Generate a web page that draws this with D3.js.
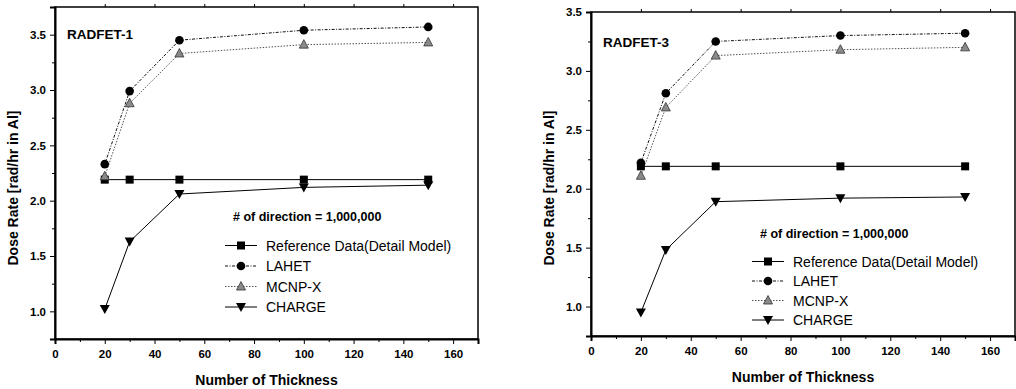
<!DOCTYPE html>
<html>
<head>
<meta charset="utf-8">
<script src="https://cdn.jsdelivr.net/npm/d3@7"></script>
<style>
  body { margin: 0; background: #fff; }
  svg { display: block; font-family: "Liberation Sans", Arial, sans-serif; }
</style>
</head>
<body>
<div id="chart"></div>
<script>
// data
const thickness = [20, 30, 50, 100, 150];
const seriesNames = ["Reference Data(Detail Model)", "LAHET", "MCNP-X", "CHARGE"];

const radfet1Ref = [2.19, 2.19, 2.19, 2.19, 2.19];
const radfet1Lahet = [2.33, 2.99, 3.45, 3.54, 3.57];
const radfet1Mcnp = [2.22, 2.88, 3.33, 3.41, 3.43];
const radfet1Charge = [1.02, 1.63, 2.06, 2.12, 2.14];

const radfet3Ref = [2.19, 2.19, 2.19, 2.19, 2.19];
const radfet3Lahet = [2.22, 2.81, 3.25, 3.30, 3.32];
const radfet3Mcnp = [2.11, 2.69, 3.13, 3.18, 3.20];
const radfet3Charge = [0.95, 1.48, 1.89, 1.92, 1.93];

const xTicks = [0, 20, 40, 60, 80, 100, 120, 140, 160];
const yTicks = [1.0, 1.5, 2.0, 2.5, 3.0, 3.5];

const width = 1016;
const height = 389;

const svg = d3.select("#chart")
  .append("svg")
  .attr("width", width)
  .attr("height", height);

// line + marker styles per series
const styles = [
  { dash: null, stroke: "#000", marker: "square", fill: "#000" },
  { dash: "3,1.5,1,1.5", stroke: "#111", marker: "circle", fill: "#000" },
  { dash: "1.5,1.5", stroke: "#555", marker: "triUp", fill: "#8a8a8a" },
  { dash: null, stroke: "#000", marker: "triDown", fill: "#000" }
];

function drawMarker(g, type, x, y, fill) {
  if (type === "square") {
    g.append("rect").attr("x", x - 4).attr("y", y - 4).attr("width", 8).attr("height", 8).attr("fill", fill);
  } else if (type === "circle") {
    g.append("circle").attr("cx", x).attr("cy", y).attr("r", 4.3).attr("fill", fill);
  } else if (type === "triUp") {
    g.append("path").attr("d", `M${x},${y - 5}L${x + 4.5},${y + 3.5}L${x - 4.5},${y + 3.5}Z`)
      .attr("fill", fill).attr("stroke", "#333").attr("stroke-width", 0.8);
  } else {
    g.append("path").attr("d", `M${x - 5},${y - 4}L${x + 5},${y - 4}L${x},${y + 5}Z`).attr("fill", fill);
  }
}

function drawPanel(p) {
  const x = d3.scaleLinear().domain([0, 170]).range([p.left, p.right]);
  const y = d3.scaleLinear().domain(p.yDomain).range([p.bottom, p.top]);
  const g = svg.append("g");

  // frame
  g.append("rect")
    .attr("x", p.left).attr("y", p.top)
    .attr("width", p.right - p.left).attr("height", p.bottom - p.top)
    .attr("fill", "none").attr("stroke", "#000").attr("stroke-width", 1.5);

  // bottom axis
  const xAxis = g.append("g")
    .attr("transform", `translate(0,${p.bottom})`)
    .call(d3.axisBottom(x).tickValues(xTicks).tickSize(5).tickPadding(6).tickFormat(d3.format("d")));
  xAxis.select(".domain").attr("stroke-width", 2);
  xAxis.selectAll("text").style("font-size", "11.5px").style("font-weight", "bold").attr("fill", "#000");
  g.append("g")
    .attr("transform", `translate(0,${p.bottom})`)
    .call(d3.axisBottom(x).tickValues(d3.range(10, 171, 20)).tickSize(3).tickFormat(""))
    .select(".domain").remove();

  // left axis
  const yAxis = g.append("g")
    .attr("transform", `translate(${p.left},0)`)
    .call(d3.axisLeft(y).tickValues(yTicks).tickSize(5).tickPadding(4).tickFormat(d3.format(".1f")));
  yAxis.select(".domain").attr("stroke-width", 2);
  yAxis.selectAll("text").style("font-size", "11.5px").style("font-weight", "bold").attr("fill", "#000");
  g.append("g")
    .attr("transform", `translate(${p.left},0)`)
    .call(d3.axisLeft(y).tickValues(d3.range(p.yDomain[0], p.yDomain[1] + 0.01, 0.5)).tickSize(3).tickFormat(""))
    .select(".domain").remove();

  // small ticks on top edge
  g.append("g")
    .attr("transform", `translate(0,${p.top})`)
    .call(d3.axisTop(x).tickValues(xTicks.filter((d) => d > 0)).tickSize(3).tickFormat(""))
    .select(".domain").remove();

  // series
  const line = d3.line().x((d) => x(d.t)).y((d) => y(d.v));
  p.series.forEach((vals, i) => {
    const pts = thickness.map((t, j) => ({ t, v: vals[j] }));
    const st = styles[i];
    g.append("path")
      .datum(pts)
      .attr("d", line)
      .attr("fill", "none")
      .attr("stroke", st.stroke)
      .attr("stroke-width", 1)
      .attr("stroke-dasharray", st.dash);
  });
  p.series.forEach((vals, i) => {
    vals.forEach((v, j) => drawMarker(g, styles[i].marker, x(thickness[j]), y(v), styles[i].fill));
  });

  // panel label
  g.append("text")
    .attr("x", p.left + 12).attr("y", p.labelY)
    .style("font-size", "13.5px").style("font-weight", "bold")
    .text(p.label);

  // note + legend
  g.append("text")
    .attr("x", p.legX + 8).attr("y", p.legY)
    .style("font-size", "12.5px").style("font-weight", "bold")
    .text("# of direction = 1,000,000");

  seriesNames.forEach((name, i) => {
    const ly = p.legY + p.legGap * (i + 1) + 4;
    const st = styles[i];
    g.append("line")
      .attr("x1", p.legX).attr("x2", p.legX + 32)
      .attr("y1", ly).attr("y2", ly)
      .attr("stroke", st.stroke).attr("stroke-width", 1)
      .attr("stroke-dasharray", st.dash);
    drawMarker(g, st.marker, p.legX + 16, ly, st.fill);
    g.append("text")
      .attr("x", p.legX + 41).attr("y", ly + 5)
      .style("font-size", "14px")
      .text(name);
  });

  // axis titles
  g.append("text")
    .attr("x", (p.left + p.right) / 2).attr("y", p.bottom + 46)
    .attr("text-anchor", "middle")
    .style("font-size", "14px").style("font-weight", "bold")
    .text("Number of Thickness");

  g.append("text")
    .attr("transform", `rotate(-90)`)
    .attr("x", -188).attr("y", p.left - 37)
    .attr("text-anchor", "middle")
    .style("font-size", "14px").style("font-weight", "bold")
    .text("Dose Rate [rad/hr in Al]");
}

drawPanel({
  left: 55, right: 478, top: 7, bottom: 339,
  yDomain: [0.75, 3.75],
  series: [radfet1Ref, radfet1Lahet, radfet1Mcnp, radfet1Charge],
  label: "RADFET-1", labelY: 39,
  legX: 225, legY: 221, legGap: 20.5
});

drawPanel({
  left: 591, right: 1015, top: 12, bottom: 336,
  yDomain: [0.75, 3.5],
  series: [radfet3Ref, radfet3Lahet, radfet3Mcnp, radfet3Charge],
  label: "RADFET-3", labelY: 47,
  legX: 752, legY: 238, legGap: 19.5
});
</script>
</body>
</html>
